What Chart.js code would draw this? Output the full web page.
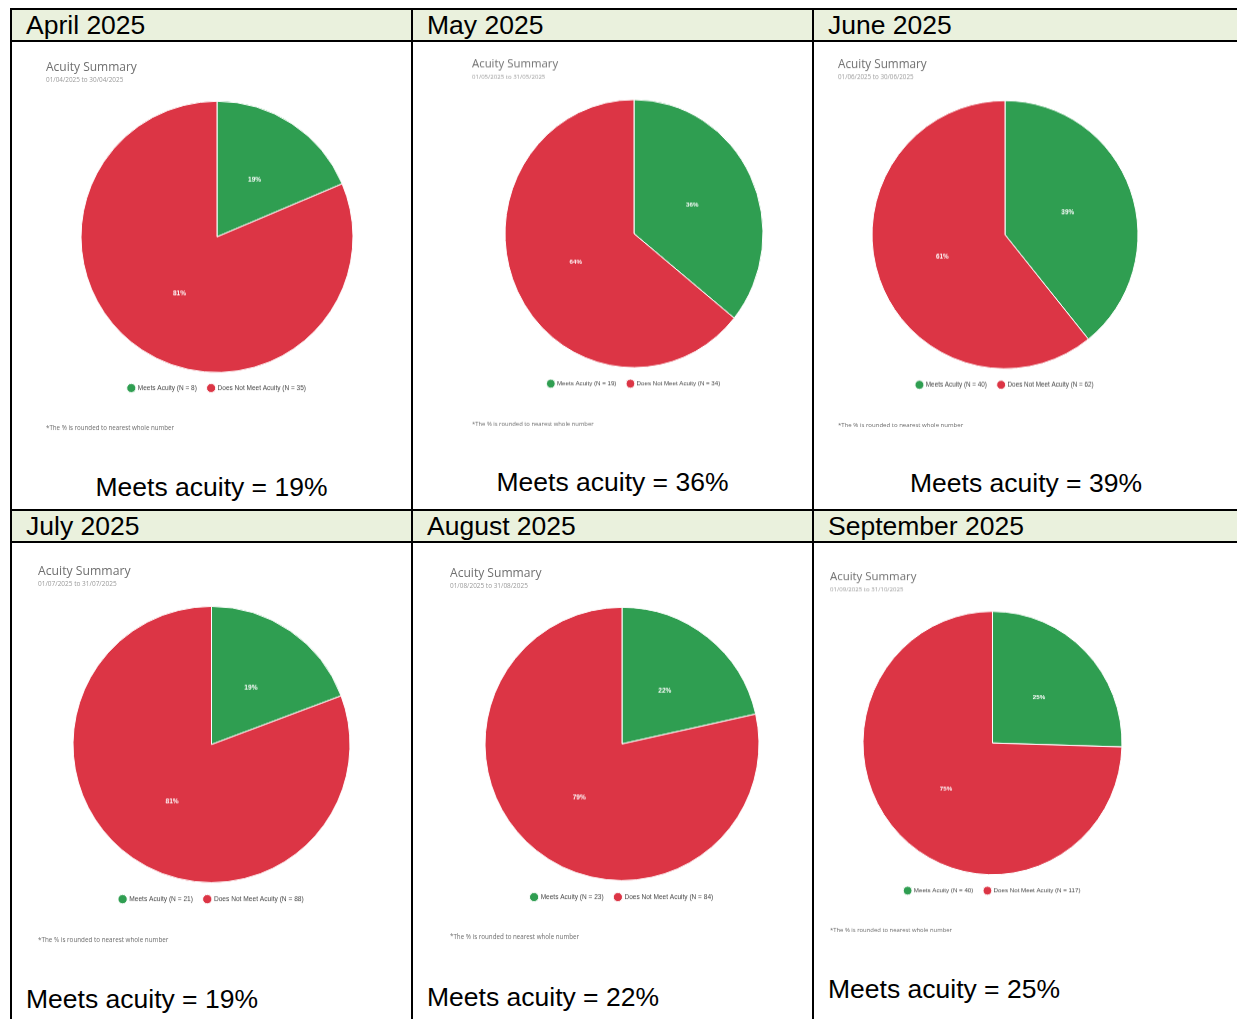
<!DOCTYPE html>
<html>
<head>
<meta charset="utf-8">
<script src="https://cdn.jsdelivr.net/npm/chart.js@4.4.1/dist/chart.umd.min.js"></script>
<style>
    html, body { margin: 0; padding: 0; background: #fff; }
    body { width: 1237px; height: 1019px; position: relative; overflow: hidden; font-family: "Liberation Sans", Arial, sans-serif; }
    .rule { position: absolute; background: #000; }
    .head { position: absolute; background: #eaf1dd; }
    .month { position: absolute; font-size: 26.5px; line-height: 30px; color: #000; white-space: nowrap; }
    .caption { position: absolute; font-size: 26.5px; line-height: 30px; color: #000; white-space: nowrap; }
    canvas { position: absolute; }
</style>
</head>
<body>
<script>
'use strict';

const monthTitles = ['April 2025', 'May 2025', 'June 2025', 'July 2025', 'August 2025', 'September 2025'];
const dateRanges = [
    '01/04/2025 to 30/04/2025',
    '01/05/2025 to 31/05/2025',
    '01/06/2025 to 30/06/2025',
    '01/07/2025 to 31/07/2025',
    '01/08/2025 to 31/08/2025',
    '01/09/2025 to 31/10/2025'
];
const meetsCounts = [8, 19, 40, 21, 23, 40];
const notMeetCounts = [35, 34, 62, 88, 84, 117];
// rounded percentages as printed on the slices and under each chart
const meetsPercent = [19, 36, 39, 19, 22, 25];
const notMeetPercent = [81, 64, 61, 81, 79, 75];
const seriesNames = ['Meets Acuity', 'Does Not Meet Acuity'];
const sliceColors = ['#2f9e51', '#dc3545'];
const chartTitle = 'Acuity Summary';
const footnote = '*The % is rounded to nearest whole number';

// where each summary sits in its table cell (ry: some of the pasted charts are a little taller than wide)
const panels = [
    { left: 46,  titleY: 67.5,  subY: 80,  cx: 217,   cy: 237,   r: 136,   ry: 135.5, legY: 388, footY: 428, capX: 211.5, capY: 472, capAlign: 'center' },
    { left: 472, titleY: 64.5,  subY: 77,  cx: 634,   cy: 234,   r: 129,   ry: 134,   legY: 384, footY: 424, capX: 612.5, capY: 467, capAlign: 'center' },
    { left: 838, titleY: 65.5,  subY: 78,  cx: 1005,  cy: 235,   r: 133,   ry: 134,   legY: 385, footY: 425, capX: 1026,  capY: 468, capAlign: 'center' },
    { left: 38,  titleY: 571.5, subY: 584, cx: 211.5, cy: 744.5, r: 138.5, ry: 138,   legY: 899, footY: 940, capX: 26,    capY: 984, capAlign: 'left' },
    { left: 450, titleY: 573.5, subY: 586, cx: 622,   cy: 744,   r: 137,   ry: 136.5, legY: 897, footY: 937, capX: 427,   capY: 982, capAlign: 'left' },
    { left: 830, titleY: 576.5, subY: 589, cx: 992.5, cy: 743,   r: 129.5, ry: 132,   legY: 891, footY: 931, capX: 828,   capY: 974, capAlign: 'left' }
];

function addDiv(cls, x, y, w, h, text) {
    const d = document.createElement('div');
    d.className = cls;
    d.style.left = x + 'px';
    d.style.top = y + 'px';
    if (w !== null) d.style.width = w + 'px';
    if (h !== null) d.style.height = h + 'px';
    if (text) d.textContent = text;
    document.body.appendChild(d);
    return d;
}

// table frame: two header rows, two body rows, three columns
addDiv('head', 12, 10, 1225, 30);
addDiv('head', 12, 511, 1225, 30);
[8, 40, 509, 541].forEach(y => addDiv('rule', 10, y, 1227, 2));
[10, 411, 812].forEach(x => addDiv('rule', x, 8, 2, 1011));

const colLeft = [12, 413, 814];
monthTitles.forEach((m, i) => {
    const col = i % 3;
    const top = i < 3 ? 10 : 511;
    addDiv('month', colLeft[col] + 14, top, null, 30, m);
});

// white percentage text in the middle of each slice
const sliceLabels = {
    id: 'sliceLabels',
    afterDatasetsDraw(chart, args, opts) {
        const ctx = chart.ctx;
        const meta = chart.getDatasetMeta(0);
        ctx.save();
        ctx.fillStyle = '#fff';
        ctx.font = 'bold ' + opts.size + 'px "Liberation Sans", Arial, sans-serif';
        ctx.textAlign = 'center';
        ctx.textBaseline = 'middle';
        meta.data.forEach((arc, i) => {
            const p = arc.tooltipPosition();
            ctx.fillText(opts.values[i] + '%', p.x, p.y);
        });
        ctx.restore();
    }
};

// small note under the legend
const footnotePlugin = {
    id: 'footnote',
    afterDraw(chart, args, opts) {
        const ctx = chart.ctx;
        ctx.save();
        ctx.fillStyle = '#6a6a6a';
        ctx.font = opts.size + 'px "Open Sans", sans-serif';
        ctx.textAlign = 'left';
        ctx.textBaseline = 'middle';
        ctx.fillText(opts.text, 0, opts.y);
        ctx.restore();
    }
};

panels.forEach((p, i) => {
    const s = p.r / 136;
    const sy = p.ry / p.r;
    const fsT = 12 * s;
    const fsS = 6.4 * s;
    const fsL = 6.5 * s;
    const lp = 11;

    const top = p.titleY - 0.6 * fsT * sy;
    const iy = y => (y - top) / sy;
    const width = 2 * (p.cx - p.left);
    const areaBottom = iy(p.legY) - lp - fsL / 2;
    const areaTop = 2 * iy(p.cy) - areaBottom;
    const subPadTop = Math.max(0, iy(p.subY) - 0.6 * fsS - 1.2 * fsT);
    const subPadBottom = areaTop - (1.2 * fsT + subPadTop + 1.2 * fsS);
    const height = Math.round(iy(p.footY) + 6);
    const legendH = fsL + lp + 10;
    const padBottom = height - areaBottom - legendH;

    const canvas = document.createElement('canvas');
    canvas.width = width;
    canvas.height = height;
    canvas.style.left = p.left + 'px';
    canvas.style.top = top + 'px';
    canvas.style.width = width + 'px';
    canvas.style.height = (height * sy) + 'px';
    document.body.appendChild(canvas);

    const meets = meetsCounts[i];
    const notMeet = notMeetCounts[i];

    new Chart(canvas, {
        type: 'pie',
        data: {
            labels: [
                seriesNames[0] + ' (N = ' + meets + ')',
                seriesNames[1] + ' (N = ' + notMeet + ')'
            ],
            datasets: [{
                data: [meets, notMeet],
                backgroundColor: sliceColors,
                borderColor: '#ffffff',
                borderWidth: 1
            }]
        },
        options: {
            responsive: false,
            maintainAspectRatio: false,
            animation: false,
            devicePixelRatio: 1,
            radius: p.r,
            layout: { padding: { top: 0, left: 0, right: 0, bottom: padBottom } },
            plugins: {
                title: {
                    display: true,
                    text: chartTitle,
                    align: 'start',
                    color: '#6f6f6f',
                    font: { family: '"Open Sans", sans-serif', size: fsT, weight: 'normal' },
                    padding: { top: 0, bottom: 0 }
                },
                subtitle: {
                    display: true,
                    text: dateRanges[i],
                    align: 'start',
                    color: '#9a9a9a',
                    font: { family: '"Open Sans", sans-serif', size: fsS },
                    padding: { top: subPadTop, bottom: subPadBottom }
                },
                legend: {
                    position: 'bottom',
                    labels: {
                        usePointStyle: true,
                        pointStyle: 'circle',
                        padding: lp,
                        color: '#444',
                        font: { family: '"Liberation Sans", Arial, sans-serif', size: fsL }
                    }
                },
                tooltip: { enabled: false },
                sliceLabels: { size: 6.5 * s, values: [meetsPercent[i], notMeetPercent[i]] },
                footnote: { text: footnote, y: iy(p.footY), size: 6.2 * s }
            }
        },
        plugins: [sliceLabels, footnotePlugin]
    });

    const cap = addDiv('caption', 0, p.capY, null, 30, 'Meets acuity = ' + meetsPercent[i] + '%');
    if (p.capAlign === 'center') {
        cap.style.left = (p.capX - 200) + 'px';
        cap.style.width = '400px';
        cap.style.textAlign = 'center';
    } else {
        cap.style.left = p.capX + 'px';
    }
});
</script>
</body>
</html>
